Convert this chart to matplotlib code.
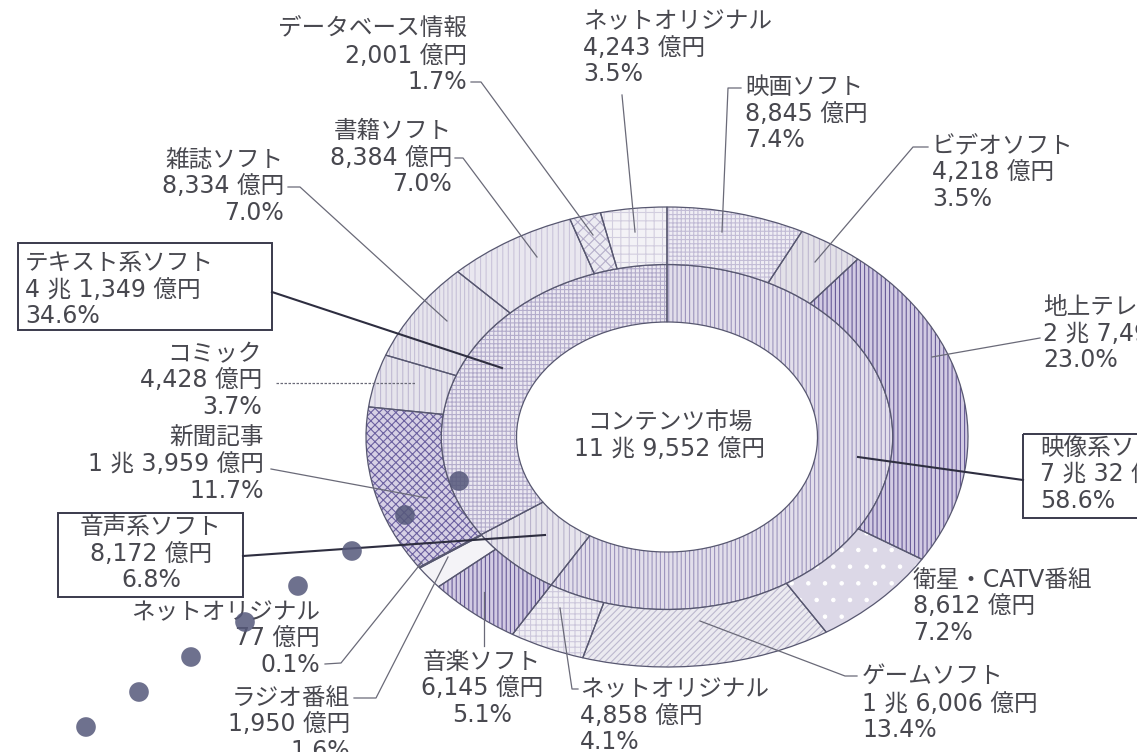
import matplotlib
matplotlib.use("Agg")
import matplotlib.pyplot as plt
from matplotlib.patches import Rectangle

# digits and latin from DejaVu (wide, round), kana/kanji fall back to Noto CJK
plt.rcParams['font.family'] = ['DejaVu Sans', 'Noto Sans CJK JP']
plt.rcParams['hatch.linewidth'] = 0.8

# --- data (億円) ---
total_value = 119552
total_label = "コンテンツ市場"

groups = ["映像系ソフト", "音声系ソフト", "テキスト系ソフト"]
group_values = [70032, 8172, 41349]
group_pcts = [58.6, 6.8, 34.6]

# outer ring, clockwise from 12 o'clock
items = ["映画ソフト", "ビデオソフト", "地上テレビ番組", "衛星・CATV番組", "ゲームソフト",
         "ネットオリジナル", "音楽ソフト", "ラジオ番組", "ネットオリジナル", "新聞記事",
         "コミック", "雑誌ソフト", "書籍ソフト", "データベース情報", "ネットオリジナル"]
item_values = [8845, 4218, 27493, 8612, 16006, 4858, 6145, 1950, 77, 13959,
               4428, 8334, 8384, 2001, 4243]
item_pcts = [7.4, 3.5, 23.0, 7.2, 13.4, 4.1, 5.1, 1.6, 0.1, 11.7,
             3.7, 7.0, 7.0, 1.7, 3.5]

# the row of dots over the lower left
dot_x = [459, 405, 352, 298, 245, 191, 139, 86]
dot_y = [481, 515, 551, 586, 622, 657, 692, 727]


def yen(v):
    cho, oku = divmod(v, 10000)
    if cho:
        return f"{cho} 兆 {oku:,} 億円"
    return f"{oku:,} 億円"


# --- styles ---
group_faces = ['#e2deeb', '#e6e4ec', '#ebe8f1']
group_hatch = ['||||', '|||', '++++']
group_hcol = ['#9d95bd', '#b9b3cc', '#b3accb']

item_faces = ['#efedf4', '#e3e1e8', '#d2cbe3', '#dcd8e7', '#ebeaf0',
              '#f0eff4', '#d2cbe3', '#f4f3f7', '#e8e6ee', '#d6d0e5',
              '#e6e4ec', '#e7e5ed', '#e9e7ef', '#ecebf2', '#f3f2f6']
item_hatch = ['++++', '|||', '||||', '.', '/////',
              '+++', '||||', '', '', 'xxxx',
              '|||', '||||', '|||', 'xxx', '++']
item_hcol = ['#c2bcd6', '#bfb8d0', '#685a98', '#ffffff', '#bdb8cf',
             '#cdc8dc', '#685a98', '#ffffff', '#ffffff', '#6c61a0',
             '#c0bad3', '#c6c0d7', '#cac4da', '#b5afca', '#d2cedf']

W, H = 1137, 752
fig = plt.figure(figsize=(W / 100, H / 100), dpi=100)

# donut is drawn stretched: centre and radii in pixels
cx, cy, rx, ry = 667, 437, 301, 230
pad = 1.05
ax = fig.add_axes([(cx - rx * pad) / W, (H - cy - ry * pad) / H,
                   2 * rx * pad / W, 2 * ry * pad / H])


def ring(values, radius, faces, hatches, hcols):
    wedges, _ = ax.pie(values, radius=radius, startangle=90, counterclock=False,
                       wedgeprops=dict(width=0.25, linewidth=0))
    for w, fc, h, hc in zip(wedges, faces, hatches, hcols):
        w.set_facecolor(fc)
        w.set_edgecolor(hc)
        w.set_hatch(h)
    ax.pie(values, radius=radius, startangle=90, counterclock=False,
           wedgeprops=dict(width=0.25, fill=False, edgecolor='#575770',
                           linewidth=0.9))


ring(group_values, 0.75, group_faces, group_hatch, group_hcol)
ring(item_values, 1.0, item_faces, item_hatch, item_hcol)
ax.set_aspect('auto')
ax.set_xlim(-pad, pad)
ax.set_ylim(-pad, pad)
ax.axis('off')

# overlay in pixel coordinates for labels and leaders
ov = fig.add_axes([0, 0, 1, 1])
ov.set_xlim(0, W)
ov.set_ylim(H, 0)
ov.axis('off')
ov.patch.set_alpha(0)

txt = dict(fontsize=17, color='#48484f', va='center')
dy = 26.5

ov.text(670, 423, total_label, ha='center', **txt)
ov.text(670, 449, yen(total_value), ha='center', **txt)

# label anchors (x, first line y, alignment)
item_pos = [(745, 87, 'left'), (932, 146, 'left'), (1043, 307, 'left'),
            (913, 580, 'left'), (862, 677, 'left'), (580, 689, 'left'),
            (482, 662, 'center'), (350, 698, 'right'), (320, 612, 'right'),
            (264, 438, 'right'), (262, 354, 'right'), (284, 160, 'right'),
            (452, 131, 'right'), (467, 29, 'right'), (583, 21, 'left')]

for name, v, p, (x, y, ha) in zip(items, item_values, item_pcts, item_pos):
    for i, s in enumerate([name, yen(v), f"{p:.1f}%"]):
        ov.text(x, y + i * dy, s, ha=ha, **txt)

group_pos = [(1040, 448, 'left'), (151, 527, 'center'), (25, 263, 'left')]
group_box = [(1023, 434, 220, 84), (58, 513, 185, 84), (18, 243, 254, 87)]
for name, v, p, (x, y, ha), (bx, by, bw, bh) in zip(groups, group_values, group_pcts,
                                                      group_pos, group_box):
    for i, s in enumerate([name, yen(v), f"{p:.1f}%"]):
        ov.text(x, y + i * dy, s, ha=ha, **txt)
    ov.add_patch(Rectangle((bx, by), bw, bh, fill=False, edgecolor='#3a3a4c',
                           linewidth=1.4))

# leader lines
thin = [
    [(741, 88), (728, 88), (722, 232)],
    [(928, 147), (913, 147), (815, 262)],
    [(1040, 338), (932, 357)],
    [(857, 676), (845, 676), (700, 621)],
    [(578, 689), (572, 689), (560, 608)],
    [(484, 646), (484, 592)],
    [(354, 698), (376, 698), (448, 557)],
    [(325, 664), (341, 663), (422, 562)],
    [(271, 469), (427, 498)],
    [(471, 82), (481, 82), (593, 235)],
    [(455, 158), (463, 158), (537, 257)],
    [(288, 187), (300, 187), (447, 321)],
    [(622, 95), (635, 232)],
]
for pts in thin:
    xs, ys = zip(*pts)
    ov.plot(xs, ys, color='#6a6a78', linewidth=0.9)

ov.plot([276, 415], [383, 383], color='#6a6a78', linewidth=0.9, linestyle=(0, (2, 1.2)))

thick = [
    [(1023, 480), (858, 457)],
    [(243, 556), (545, 535)],
    [(272, 292), (502, 368)],
]
for pts in thick:
    xs, ys = zip(*pts)
    ov.plot(xs, ys, color='#2e2e40', linewidth=1.5)

ov.scatter(dot_x, dot_y, s=200, color='#55587a', alpha=0.85, edgecolors='none', zorder=5)

fig.savefig("out.png", dpi=100)
